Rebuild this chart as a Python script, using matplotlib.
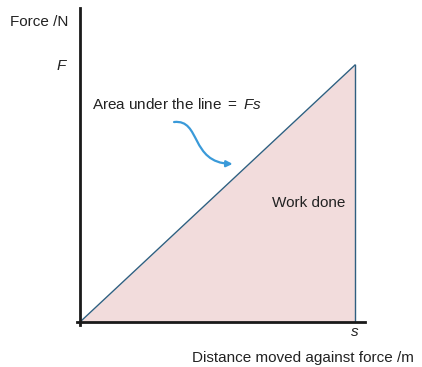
import matplotlib.pyplot as plt
from matplotlib.patches import FancyArrowPatch
from matplotlib.path import Path

plt.rcParams['font.family'] = ['Liberation Sans', 'DejaVu Sans']
plt.rcParams['mathtext.fontset'] = 'custom'
plt.rcParams['mathtext.rm'] = 'Liberation Sans'
plt.rcParams['mathtext.it'] = 'Liberation Sans:italic'

# force rises linearly from 0 to F over distance s
distance = [0.0, 1.0]
force = [0.0, 1.0]
tick_x = ["s"]
tick_y = ["F"]

W, H = 422, 367
fig = plt.figure(figsize=(W / 100, H / 100), dpi=100)
ax = fig.add_axes([77 / W, 1 - 325 / H, (365 - 77) / W, (325 - 8) / H])
ax.set_xlim(-3 / 275, 285 / 275)
ax.set_ylim(-3 / 257, 314 / 257)

ax.fill_between(distance, force, 0, color="#f2dcdc", lw=0)
ax.plot(distance, force, color="#2f5f80", lw=1.0)
ax.plot([distance[-1], distance[-1]], [0, force[-1]], color="#2f5f80", lw=1.0)

for side in ["top", "right"]:
    ax.spines[side].set_visible(False)
ax.spines["left"].set_position(("data", 0))
ax.spines["bottom"].set_position(("data", 0))
for side in ["left", "bottom"]:
    ax.spines[side].set_linewidth(2)
    ax.spines[side].set_color("#1a1a1a")

ax.set_xticks([distance[-1]])
ax.set_xticklabels(tick_x, fontstyle="italic", fontsize=11)
ax.set_yticks([force[-1]])
ax.set_yticklabels(tick_y, fontstyle="italic", fontsize=11)
ax.tick_params(length=0, colors="#222222")
ax.tick_params(axis="y", pad=10)
ax.tick_params(axis="x", pad=2)
for lbl in ax.get_yticklabels():
    lbl.set_y(1.02)

ax.text(0.044, 0.848, "Area under the line $=$ $Fs$", fontsize=11,
        va="center", ha="left", color="#222222")
ax.text(0.964, 0.463, "Work done", fontsize=11, va="center", ha="right",
        color="#222222")

verts = [(0.342, 0.778), (0.44, 0.79), (0.40, 0.62), (0.555, 0.615)]
codes = [Path.MOVETO, Path.CURVE4, Path.CURVE4, Path.CURVE4]
arrow = FancyArrowPatch(path=Path(verts, codes), arrowstyle="-|>",
                        mutation_scale=9, color="#3a9ad9", lw=1.6)
ax.add_patch(arrow)

fig.text(68 / W, 1 - 22 / H, "Force /N", fontsize=11, ha="right",
         va="center", color="#222222")
fig.text(192 / W, 1 - 358 / H, "Distance moved against force /m",
         fontsize=11, ha="left", va="center", color="#222222")

fig.savefig("out.png", dpi=100)
